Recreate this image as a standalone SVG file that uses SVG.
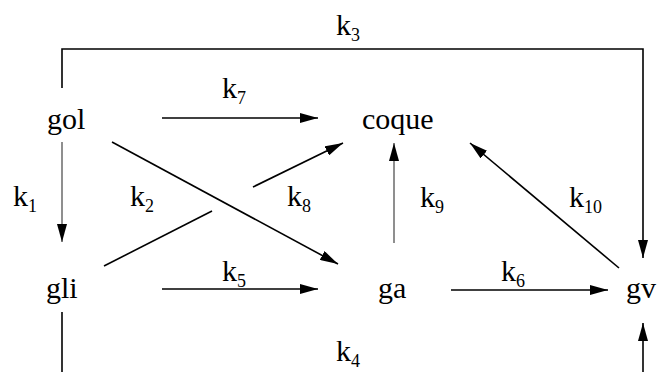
<svg xmlns="http://www.w3.org/2000/svg" width="658" height="372" viewBox="0 0 658 372" font-family="Liberation Serif, Times New Roman, serif">
<style>
.n{font-size:30px}
.k{font-size:30px}
.s{font-size:18px}
.c{fill:none;stroke:#000;stroke-width:1.6}
.t{fill:none;stroke:#333;stroke-width:1.1}
</style>
<defs>
<marker id="a" markerUnits="userSpaceOnUse" markerWidth="18" markerHeight="10" refX="18" refY="5" orient="auto">
<path d="M0,0 L18,5 L0,10 Z" fill="#000"/>
</marker>
</defs>
<g id="connectors">
<path class="c" d="M62,88 V49 H643 V258" marker-end="url(#a)"/>
<path class="t" d="M62,142 V242" marker-end="url(#a)"/>
<path class="c" d="M162,118 H318" marker-end="url(#a)"/>
<path class="c" d="M112,142 L338,264" marker-end="url(#a)"/>
<path class="c" d="M104,266 L212,211"/>
<path class="c" d="M253,187 L343,143" marker-end="url(#a)"/>
<path class="c" d="M162,289 H318" marker-end="url(#a)"/>
<path class="t" d="M394,243 V143" marker-end="url(#a)"/>
<path class="c" d="M451,290 H608" marker-end="url(#a)"/>
<path class="c" d="M619,268 L470,143" marker-end="url(#a)"/>
<path class="c" d="M62,312 V380"/>
<path class="c" d="M643,380 V323" marker-end="url(#a)"/>
</g>
<g id="labels" font-family="Liberation Serif, serif">
<text class="k" x="336" y="35">k<tspan class="s" dy="6">3</tspan></text>
<text class="k" x="222" y="98">k<tspan class="s" dy="6">7</tspan></text>
<text class="k" x="13" y="206">k<tspan class="s" dy="6">1</tspan></text>
<text class="k" x="130" y="206">k<tspan class="s" dy="6">2</tspan></text>
<text class="k" x="287" y="206">k<tspan class="s" dy="6">8</tspan></text>
<text class="k" x="420" y="207">k<tspan class="s" dy="6">9</tspan></text>
<text class="k" x="569" y="207">k<tspan class="s" dy="6">10</tspan></text>
<text class="k" x="222" y="281">k<tspan class="s" dy="6">5</tspan></text>
<text class="k" x="501" y="281">k<tspan class="s" dy="6">6</tspan></text>
<text class="k" x="336" y="361">k<tspan class="s" dy="6">4</tspan></text>
</g>
<g id="gol"><text class="n" x="47" y="129">gol</text></g>
<g id="coque"><text class="n" x="362" y="129">coque</text></g>
<g id="gli"><text class="n" x="46" y="298">gli</text></g>
<g id="ga"><text class="n" x="378" y="298">ga</text></g>
<g id="gv"><text class="n" x="626" y="298">gv</text></g>
</svg>
